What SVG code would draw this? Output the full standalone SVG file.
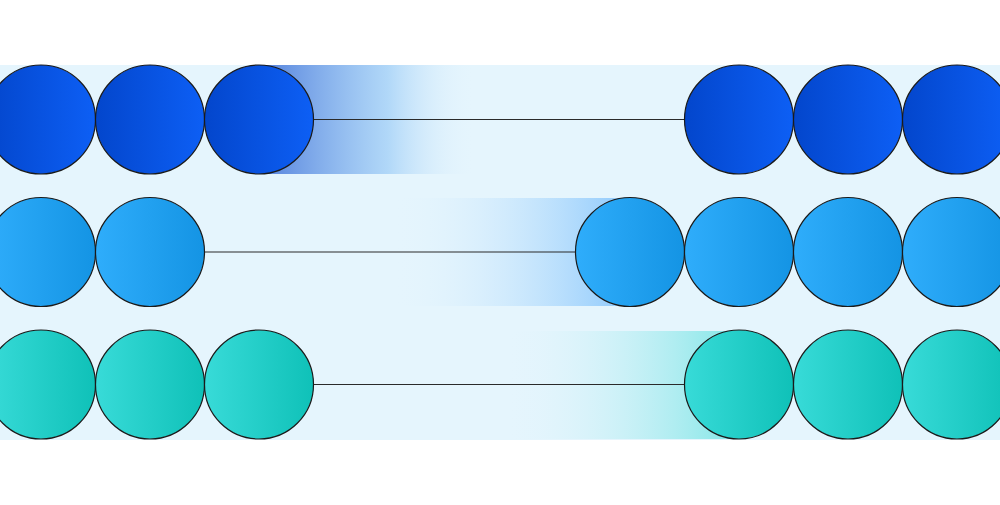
<svg xmlns="http://www.w3.org/2000/svg" width="1000" height="505" viewBox="0 0 1000 505">
<defs>
<linearGradient id="g1" x1="0" x2="1" y1="0" y2="0"><stop offset="0" stop-color="#0346cc"/><stop offset="1" stop-color="#0d5ff5"/></linearGradient>
<linearGradient id="g2" x1="0" x2="1" y1="0" y2="0"><stop offset="0" stop-color="#2fadfb"/><stop offset="1" stop-color="#1494e4"/></linearGradient>
<linearGradient id="g3" x1="0" x2="1" y1="0" y2="0"><stop offset="0" stop-color="#38dbd8"/><stop offset="1" stop-color="#0fc1b8"/></linearGradient>
<linearGradient id="t1" x1="0" x2="1" y1="0" y2="0"><stop offset="0" stop-color="#2d62d4" stop-opacity="0.8"/><stop offset="0.6" stop-color="#8ec4f5" stop-opacity="0.6"/><stop offset="1" stop-color="#e4f4fd" stop-opacity="0"/></linearGradient>
<linearGradient id="t2" x1="0" x2="1" y1="0" y2="0"><stop offset="0" stop-color="#e4f4fd" stop-opacity="0"/><stop offset="1" stop-color="#8cc8fc" stop-opacity="1"/></linearGradient>
<linearGradient id="t3" x1="0" x2="1" y1="0" y2="0"><stop offset="0" stop-color="#e4f4fd" stop-opacity="0"/><stop offset="1" stop-color="#80e6e6" stop-opacity="1"/></linearGradient>
</defs>
<style>circle{stroke:#1a1a1a;stroke-width:1.2}.r1{fill:url(#g1)}.r2{fill:url(#g2)}.r3{fill:url(#g3)}line{stroke:#2a2a2a;stroke-width:1.2}</style>
<rect x="0" y="0" width="1000" height="505" fill="#ffffff"/>
<rect x="0" y="65" width="1000" height="375" fill="#e5f5fd"/>
<rect x="259" y="65" width="215" height="109" fill="url(#t1)"/>
<rect x="395" y="198" width="235" height="108" fill="url(#t2)"/>
<rect x="505" y="331" width="234" height="108" fill="url(#t3)"/>
<g id="connectors">
<line x1="313" y1="119.5" x2="685" y2="119.5"/>
<line x1="204" y1="252" x2="576" y2="252"/>
<line x1="313" y1="384.5" x2="685" y2="384.5"/>
</g>
<g id="row1">
<circle class="r1" cx="41" cy="119.5" r="54.5"/><circle class="r1" cx="150" cy="119.5" r="54.5"/><circle class="r1" cx="259" cy="119.5" r="54.5"/>
<circle class="r1" cx="739" cy="119.5" r="54.5"/><circle class="r1" cx="848" cy="119.5" r="54.5"/><circle class="r1" cx="957" cy="119.5" r="54.5"/>
</g>
<g id="row2">
<circle class="r2" cx="41" cy="252" r="54.5"/><circle class="r2" cx="150" cy="252" r="54.5"/>
<circle class="r2" cx="630" cy="252" r="54.5"/><circle class="r2" cx="739" cy="252" r="54.5"/><circle class="r2" cx="848" cy="252" r="54.5"/><circle class="r2" cx="957" cy="252" r="54.5"/>
</g>
<g id="row3">
<circle class="r3" cx="41" cy="384.5" r="54.5"/><circle class="r3" cx="150" cy="384.5" r="54.5"/><circle class="r3" cx="259" cy="384.5" r="54.5"/>
<circle class="r3" cx="739" cy="384.5" r="54.5"/><circle class="r3" cx="848" cy="384.5" r="54.5"/><circle class="r3" cx="957" cy="384.5" r="54.5"/>
</g>
</svg>
